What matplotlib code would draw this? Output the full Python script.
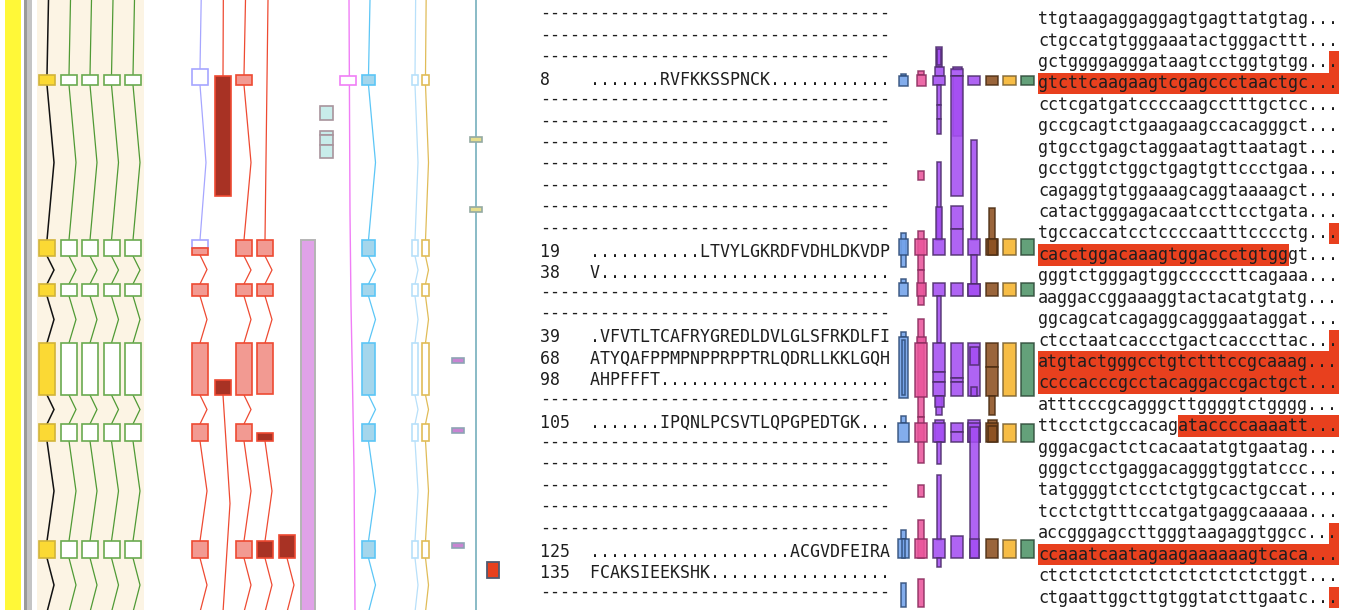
import matplotlib
matplotlib.use("Agg")
import matplotlib.pyplot as plt
from matplotlib.patches import Rectangle

# ------------------------------------------------------------------ data
N_ROWS = 28
PROT_ROWS = [3, 11, 12, 15, 16, 17, 19, 25, 26]
PROT_POS = ["8", "19", "38", "39", "68", "98", "105", "125", "135"]
PROT_SEQ = [
    ".......RVFKKSSPNCK............",
    "...........LTVYLGKRDFVDHLDKVDP",
    "V.............................",
    ".VFVTLTCAFRYGREDLDVLGLSFRKDLFI",
    "ATYQAFPPMPNPPRPPTRLQDRLLKKLGQH",
    "AHPFFFT.......................",
    ".......IPQNLPCSVTLQPGPEDTGK...",
    "....................ACGVDFEIRA",
    "FCAKSIEEKSHK..................",
]

DNA_SEQ = [
    "ttgtaagaggaggagtgagttatgtag", "ctgccatgtgggaaatactgggacttt",
    "gctggggagggataagtcctggtgtgg", "gtcttcaagaagtcgagccctaactgc",
    "cctcgatgatccccaagcctttgctcc", "gccgcagtctgaagaagccacagggct",
    "gtgcctgagctaggaatagttaatagt", "gcctggtctggctgagtgttccctgaa",
    "cagaggtgtggaaagcaggtaaaagct", "catactgggagacaatccttcctgata",
    "tgccaccatcctccccaatttcccctg", "cacctggacaaagtggaccctgtgggt",
    "gggtctgggagtggcccccttcagaaa", "aaggaccggaaaggtactacatgtatg",
    "ggcagcatcagaggcagggaataggat", "ctcctaatcaccctgactcacccttac",
    "atgtactgggcctgtctttccgcaaag", "ccccacccgcctacaggaccgactgct",
    "atttcccgcagggcttggggtctgggg", "ttcctctgccacagataccccaaaatt",
    "gggacgactctcacaatatgtgaatag", "gggctcctgaggacagggtggtatccc",
    "tatggggtctcctctgtgcactgccat", "tcctctgtttccatgatgaggcaaaaa",
    "accgggagccttgggtaagaggtggcc", "ccaaatcaatagaagaaaaaagtcaca",
    "ctctctctctctctctctctctctggt", "ctgaattggcttgtggtatcttgaatc",
]
# highlighted DNA cells: row, first char, end char
HL_ROW = [2, 3, 10, 11, 15, 16, 17, 19, 24, 25, 27]
HL_START = [29, 0, 29, 0, 29, 0, 0, 14, 29, 0, 29]
HL_END = [30, 30, 30, 25, 30, 30, 30, 30, 30, 30, 30]

# gene-model exons (vertical genomic position, px scale of the view)
EX_MAIN = [(75, 85), (240, 256), (284, 296), (343, 395), (424, 441), (541, 558)]
EX_LEAD = (-650, -625)
EX_LEAD_FAR = (-900, -880)
EX_TAIL = (612, 640)
EX_T1_UP = [(69, 85), (240, 248)]
EX_T1_LOW = [(248, 255), (284, 296), (343, 395), (424, 441), (541, 558)]
EX_T2_A = [(76, 196)]
EX_T2_B = [(380, 395)]
EX_T4_A = [(240, 256), (284, 296), (343, 394)]
EX_T4_B = [(433, 441), (541, 558)]
EX_T5 = [(535, 558)]
BAR_T6 = [(240, 612)]
BOX_T7 = [(106, 120), (131, 135), (135, 145), (145, 158)]
BOX_T8 = [(76, 85)]
LINE_T8_Y = [-2, 213, 305, 383, 468, 612]
LINE_T8_DX = [0, 1, 2, 3.5, 5, 6]
BOX_T12 = [(358, 363), (428, 433), (543, 548)]
BOX_T13 = [(137, 142), (207, 212)]
BOX_T14 = [(562, 578)]

# right-hand feature glyph columns: (start, end, width level)
RB_BLUE = [(74, 76, 2), (76, 86, 1), (233, 267, 2), (239, 255, 1), (279, 283, 2),
           (283, 296, 1), (332, 337, 2), (337, 398, 1), (340, 395, 3), (416, 423, 2),
           (423, 442, 0), (530, 539, 2), (539, 558, 0), (539, 558, 3), (583, 607, 2)]
RB_PINK = [(71, 75, 2), (75, 86, 1), (171, 180, 2), (231, 270, 2), (239, 255, 0),
           (270, 305, 2), (283, 296, 1), (319, 417, 2), (337, 343, 1), (343, 397, 0),
           (417, 463, 2), (423, 442, 0), (485, 497, 2), (520, 558, 2), (539, 558, 0),
           (579, 607, 2)]
RB_PURP1 = [(47, 67, 2), (49, 65, 3), (67, 76, 1), (76, 85, 0), (85, 105, 3),
            (105, 119, 3), (119, 134, 3), (162, 240, 3), (207, 240, 2), (239, 255, 0),
            (283, 296, 0), (296, 343, 3), (343, 372, 0), (372, 382, 0), (382, 396, 0),
            (396, 415, 2), (396, 407, 1), (420, 442, 1), (423, 442, 0), (442, 464, 3),
            (475, 540, 3), (539, 558, 0), (558, 567, 3)]
RB_PURP2 = [(67, 70, 1), (69, 76, 0), (76, 136, 1), (76, 196, 0), (206, 229, 0),
            (229, 255, 0), (283, 296, 0), (343, 378, 0), (378, 382, 0), (382, 396, 0),
            (423, 432, 0), (432, 442, 0), (536, 558, 0)]
RB_PURP3 = [(76, 85, 0), (140, 240, 2), (239, 255, 0), (255, 284, 2), (284, 296, 0),
            (284, 296, 0), (343, 396, 0), (347, 365, 1), (387, 396, 2), (420, 442, 0),
            (423, 442, 0), (427, 558, 1), (539, 558, 1)]
RB_BROWN = [(76, 85, 0), (208, 240, 2), (239, 255, 0), (239, 255, 1), (283, 296, 0),
            (343, 367, 0), (367, 396, 0), (396, 415, 2), (420, 426, 1), (423, 442, 0),
            (426, 442, 1), (539, 558, 0)]
RB_ORANGE = [(76, 85, 0), (239, 255, 0), (283, 296, 0), (343, 396, 0), (424, 442, 0),
             (540, 558, 0)]
RB_GREEN = [(76, 85, 0), (239, 255, 0), (283, 296, 0), (343, 396, 0), (424, 442, 0),
            (540, 558, 0)]

# ------------------------------------------------------------------ layout
W, H = 1347, 610
ROW0, ROW_H = 19.2, 21.42
FS = 12
CW = 0.602 * FS * 100 / 72  # mono char width (px)
LEFT_X, RIGHT_X = 540, 1038
LEFT_DY, DASH_DY = -3.0, -6.0
TXT_C = "#1e1e1e"
HL_C = "#e8401e"

fig = plt.figure(figsize=(W / 100, H / 100), dpi=100)
ax = fig.add_axes([0, 0, 1, 1])
ax.set_xlim(0, W)
ax.set_ylim(H, 0)
ax.axis("off")


def row_y(i):
    return ROW0 + ROW_H * i


def rect(x0, y0, w, h, fc, ec, lw=1.0, z=3, alpha=1.0):
    ax.add_patch(Rectangle((x0, y0), w, h, facecolor=fc, edgecolor=ec,
                           linewidth=lw, zorder=z, alpha=alpha))


def introns(xc, exons, color, amp, lead=None, tail=None, lw=0.9):
    full = ([lead] if lead else []) + list(exons) + ([tail] if tail else [])
    for a, b in zip(full[:-1], full[1:]):
        ax.plot([xc, xc + amp, xc], [a[1], (a[1] + b[0]) / 2, b[0]],
                color=color, lw=lw, zorder=2, solid_joinstyle="miter")


def boxes(xc, w, exons, fc, ec, lw=1.0, z=3):
    for a, b in exons:
        rect(xc - w / 2, a, w, b - a, fc, ec, lw=lw, z=z)


# --- left static bars and beige panel
rect(5, -5, 16, H + 10, "#fff838", "none", lw=0, z=1)
rect(24, -5, 3, H + 10, "#9a9a9a", "none", lw=0, z=1)
rect(27, -5, 5, H + 10, "#c4c4c4", "none", lw=0, z=1)
rect(37, -5, 107, H + 10, "#fcf4e4", "none", lw=0, z=0.5)

# --- yellow/black model + 4 green models
introns(47, EX_MAIN, "#111111", 7, EX_LEAD, EX_TAIL, lw=1.1)
boxes(47, 16, EX_MAIN, "#fbd934", "#d2b43a", lw=1.2)
for xc in [69, 90, 111.5, 133]:
    introns(xc, EX_MAIN, "#4f9a35", 7, EX_LEAD, EX_TAIL)
    boxes(xc, 16, EX_MAIN, "white", "#6aaa50", lw=1.2)

# --- red / periwinkle models
RED_LINE, RED_FILL, RED_DARK = "#ee4a32", "#f29a92", "#a83224"
introns(200, EX_T1_UP, "#a6a6ff", 6, EX_LEAD)
boxes(200, 16, EX_T1_UP, "white", "#a6a6ff", lw=1.2)
introns(200, EX_T1_LOW, RED_LINE, 7, None, EX_TAIL)
boxes(200, 16, EX_T1_LOW, RED_FILL, RED_LINE, lw=1.2)

introns(223, EX_T2_A, RED_LINE, 1.5, EX_LEAD)
boxes(223, 16, EX_T2_A, RED_DARK, RED_LINE, lw=1.2)
introns(223, EX_T2_B, RED_LINE, 7, None, EX_TAIL)
boxes(223, 16, EX_T2_B, RED_DARK, RED_LINE, lw=1.2)

introns(244, EX_MAIN, RED_LINE, 7, EX_LEAD, EX_TAIL)
boxes(244, 16, EX_MAIN, RED_FILL, RED_LINE, lw=1.2)

introns(265, EX_T4_A, RED_LINE, 7, EX_LEAD_FAR)
boxes(265, 16, EX_T4_A, RED_FILL, RED_LINE, lw=1.2)
introns(265, EX_T4_B, RED_LINE, 7, None, EX_TAIL)
boxes(265, 16, EX_T4_B, RED_DARK, RED_LINE, lw=1.2)

introns(287, EX_T5, RED_LINE, 7, None, EX_TAIL)
boxes(287, 16, EX_T5, RED_DARK, RED_LINE, lw=1.2)

boxes(308, 14, BAR_T6, "#e0a2e8", "#b4b4b4", lw=1.4)
boxes(326.5, 13, BOX_T7, "#c8ecea", "#a8949c", lw=1.2)

ax.plot([349 + d for d in LINE_T8_DX], LINE_T8_Y, color="#f07ef6", lw=1.0, zorder=2)
boxes(348, 16, BOX_T8, "white", "#f07ef6", lw=1.2)

introns(368.5, EX_MAIN, "#5cc6f6", 7, EX_LEAD, EX_TAIL)
boxes(368.5, 13, EX_MAIN, "#a4d6ec", "#5cc6f6", lw=1.2)

introns(415, EX_MAIN, "#b8e0fa", 3, EX_LEAD, EX_TAIL)
boxes(415, 6.5, EX_MAIN, "white", "#b8e0fa", lw=1.2)
introns(425.5, EX_MAIN, "#e0bc58", 3, EX_LEAD, EX_TAIL)
boxes(425.5, 6.5, EX_MAIN, "white", "#e0bc58", lw=1.2)

boxes(458, 12, BOX_T12, "#c884d2", "#8ea4b4", lw=1.2)
ax.plot([476, 476], [-2, H + 2], color="#6aa8b6", lw=1.1, zorder=2)
boxes(476, 12, BOX_T13, "#e6de8e", "#94aaa2", lw=1.2)
boxes(493, 12, BOX_T14, "#e8401e", "#505a70", lw=1.3)

# --- right glyph columns
LEVEL = {0: 1.0, 1: 0.75, 2: 0.5, 3: 0.34}
RB = [(RB_BLUE, 903.5, 11, "#72a2ea", "#2e4c78"),
      (RB_PINK, 921, 12, "#ea569c", "#8a2c5e"),
      (RB_PURP1, 939, 12, "#a44ef2", "#4c2c6a"),
      (RB_PURP2, 957, 12, "#a44ef2", "#4c2c6a"),
      (RB_PURP3, 974, 12, "#a44ef2", "#4c2c6a"),
      (RB_BROWN, 992, 12, "#8c5020", "#4a2c12"),
      (RB_ORANGE, 1009.5, 13, "#f6b42c", "#7a6030"),
      (RB_GREEN, 1027.5, 13, "#4e9468", "#2e4a38")]
for items, xc, w, fc, ec in RB:
    for a, b, lev in items:
        ww = w * LEVEL[lev]
        rect(xc - ww / 2, a, ww, b - a, fc, ec, lw=1.1, z=3, alpha=0.88)

# --- left text (protein frames)
prot = dict(zip(PROT_ROWS, zip(PROT_POS, PROT_SEQ)))
for i in range(N_ROWS):
    if i in prot:
        pos, seq = prot[i]
        ax.text(LEFT_X, row_y(i) + LEFT_DY, f"{pos:<5}{seq}",
                family="DejaVu Sans Mono", fontsize=FS,
                color=TXT_C, va="center", ha="left", zorder=5)
    else:
        ax.text(LEFT_X, row_y(i) + DASH_DY, "-" * 35,
                family="DejaVu Sans Mono", fontsize=FS,
                color=TXT_C, va="center", ha="left", zorder=5)

# --- right text (DNA) with highlights
for r, a, b in zip(HL_ROW, HL_START, HL_END):
    rect(RIGHT_X + a * CW, row_y(r) - ROW_H / 2, (b - a) * CW, ROW_H,
         HL_C, "none", lw=0, z=4)
for i, seq in enumerate(DNA_SEQ):
    ax.text(RIGHT_X, row_y(i), seq + "...", family="DejaVu Sans Mono", fontsize=FS,
            color=TXT_C, va="center", ha="left", zorder=5)

fig.savefig("out.png", dpi=100)
